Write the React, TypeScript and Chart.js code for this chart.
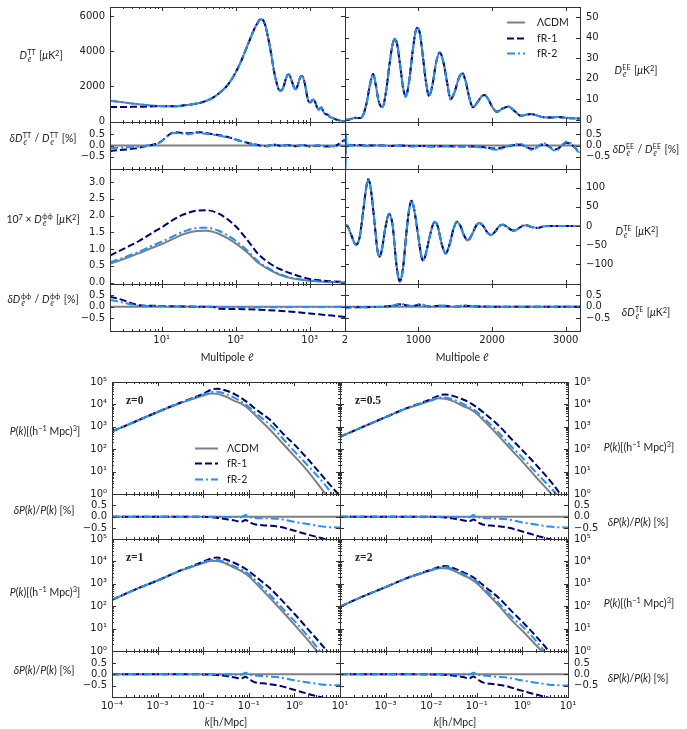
import React, { useEffect, useRef } from 'react';
import { Chart, registerables } from 'chart.js';

Chart.register(...registerables);

const GRAY = '#808080';
const NAVY = '#000080';
const BLUE = '#1e90ff';
const INK = '#222222';
const TICK_FONT = "'DejaVu Sans', sans-serif";
const LABEL_FONT = "Lato, 'DejaVu Sans', sans-serif";
const SERIF_FONT = "'Liberation Serif', 'DejaVu Serif', serif";

// ---------------- CMB temperature spectrum (log multipoles) ----------------
const ttEll = [2, 3, 4, 6, 8, 10, 15, 20, 30, 40, 50, 65, 80, 100, 120, 150, 180, 200, 215, 230, 250, 270, 300, 330, 360, 390, 410, 440, 470, 500, 525, 555, 590, 620, 645, 680, 720, 760, 790, 820, 860, 900, 940, 980, 1030, 1080, 1130, 1190, 1260, 1320, 1380, 1440, 1510, 1580, 1680, 1760, 1850, 1950, 2050, 2200, 2400, 2600, 2800, 3000];
const ttLcdm = [1190, 1100, 1030, 950, 905, 885, 875, 930, 1030, 1180, 1380, 1750, 2150, 2800, 3500, 4500, 5300, 5650, 5820, 5800, 5500, 4900, 3900, 2850, 2150, 1780, 1770, 1950, 2350, 2650, 2680, 2480, 2150, 1900, 1840, 2000, 2350, 2580, 2600, 2480, 2150, 1700, 1300, 1120, 1100, 1220, 1260, 1100, 800, 680, 760, 800, 640, 480, 420, 400, 300, 230, 210, 150, 95, 60, 38, 25];
const ttFr1 = [835, 838, 842, 855, 872, 880, ...ttLcdm.slice(6)];

const ttRatioEll = [2, 3, 4.2, 6.4, 9.6, 12.4, 14.5, 18, 22, 27, 33, 40, 50, 76, 115, 174, 265, 320, 400, 500, 650, 800, 1000, 1300, 1700, 2200, 2600, 2800, 3000];
const ttRatioFr1 = [-0.245, -0.19, -0.14, -0.02, 0.16, 0.47, 0.59, 0.57, 0.55, 0.57, 0.59, 0.55, 0.5, 0.39, 0.21, 0.06, -0.03, 0.05, -0.01, 0.02, -0.03, 0.03, -0.04, 0.0, -0.05, -0.02, 0.12, 0.2, 0.25];
const ttRatioFr2 = [-0.12, -0.09, -0.07, 0.0, 0.15, 0.45, 0.56, 0.54, 0.5, 0.55, 0.56, 0.52, 0.48, 0.37, 0.2, 0.05, -0.03, 0.04, 0.0, 0.01, -0.02, 0.02, -0.03, 0.01, -0.04, -0.02, 0.08, 0.15, 0.2];

// ---------------- lensing potential ----------------
const phiEll = [2, 3, 5, 7, 10, 15, 20, 30, 40, 60, 100, 150, 200, 300, 400, 600, 1000, 1500, 2000, 3000];
const phiLcdm = [0.56, 0.7, 0.88, 1.02, 1.15, 1.33, 1.45, 1.54, 1.55, 1.45, 1.17, 0.86, 0.6, 0.36, 0.23, 0.12, 0.055, 0.03, 0.02, 0.01];
const phiFr1 = [0.81, 1.0, 1.25, 1.45, 1.65, 1.9, 2.04, 2.15, 2.16, 2.05, 1.68, 1.22, 0.86, 0.55, 0.4, 0.25, 0.11, 0.06, 0.04, 0.02];
const phiFr2 = [0.61, 0.74, 0.93, 1.08, 1.22, 1.41, 1.53, 1.63, 1.64, 1.54, 1.25, 0.92, 0.64, 0.39, 0.25, 0.13, 0.06, 0.033, 0.022, 0.012];

const phiRatioEll = [2, 3, 4, 5, 7, 10, 20, 30, 50, 60, 100, 200, 500, 1000, 2000, 3000];
const phiRatioFr1 = [0.43, 0.28, 0.14, 0.06, 0.04, 0.03, 0.01, 0.0, -0.01, -0.09, -0.1, -0.13, -0.2, -0.29, -0.38, -0.44];
const phiRatioFr2 = [0.29, 0.18, 0.09, 0.04, 0.03, 0.02, 0.01, 0.0, 0.0, -0.01, -0.02, -0.03, -0.02, -0.01, -0.01, 0.0];

// ---------------- E-mode polarisation (linear multipoles) ----------------
const eeEll = [2, 30, 80, 140, 200, 250, 300, 340, 385, 420, 460, 512, 560, 610, 650, 680, 710, 750, 790, 828, 870, 920, 960, 990, 1020, 1060, 1100, 1143, 1190, 1240, 1290, 1340, 1390, 1437, 1490, 1550, 1596, 1640, 1690, 1739, 1800, 1860, 1898, 1950, 2000, 2064, 2150, 2227, 2300, 2395, 2470, 2530, 2600, 2700, 2800, 2900, 3000, 3100, 3195];
const eeLcdm = [0.05, 0.05, 0.4, 1.1, 0.9, 2.5, 9, 17, 22.4, 17, 9, 6.2, 14, 28, 37, 39.5, 37, 27, 16, 11.4, 18, 33, 43, 45, 42, 31, 19, 11.7, 17, 28, 32.8, 28, 18, 10.1, 13.5, 20.5, 22.8, 19, 11, 6.2, 8.5, 11.5, 12.2, 10, 6.5, 4.0, 5.7, 6.5, 4.5, 2.0, 2.6, 2.9, 2.3, 1.3, 1.2, 1.4, 1.1, 0.8, 0.7];

const eeRatioEll = [2, 5, 9, 14, 20, 30, 60, 150, 300, 450, 600, 750, 900, 1050, 1200, 1350, 1500, 1650, 1750, 1900, 2065, 2220, 2380, 2540, 2700, 2860, 3017, 3195];
const eeRatioFr1 = [0.1, 0.65, -0.35, 0.1, -0.02, 0.02, 0.01, 0.02, 0.0, 0.01, -0.02, 0.0, -0.03, -0.02, -0.04, -0.03, -0.04, -0.04, -0.05, -0.08, -0.14, -0.03, 0.04, -0.15, 0.06, -0.18, 0.12, -0.3];
const eeRatioFr2 = [0.3, 1.2, -1.2, 0.5, -0.1, 0.05, 0.02, 0.0, -0.02, 0.01, -0.03, 0.0, -0.04, -0.02, -0.06, -0.03, -0.06, -0.04, -0.06, -0.1, -0.19, -0.02, 0.08, -0.2, 0.1, -0.24, 0.18, -0.38];

// ---------------- temperature-polarisation cross spectrum ----------------
const teEll = [2, 30, 80, 151, 200, 250, 290, 318, 350, 400, 440, 467, 500, 550, 602, 650, 700, 747, 790, 840, 875, 905, 940, 1000, 1040, 1062, 1090, 1150, 1190, 1221, 1260, 1320, 1370, 1420, 1480, 1523, 1570, 1620, 1672, 1720, 1790, 1830, 1880, 1940, 1988, 2040, 2100, 2145, 2200, 2260, 2304, 2360, 2420, 2460, 2540, 2620, 2700, 2800, 3000, 3195];
const teLcdm = [2, 1, -20, -49, -30, 40, 100, 122, 100, 15, -60, -81, -65, -5, 32, 0, -100, -145, -110, -10, 45, 66, 45, -30, -80, -90, -80, -30, 0, 11, 0, -50, -72, -50, -5, 11, 0, -25, -38, -25, 3, 8, 0, -18, -23.5, -15, 0, 3, -2, -10, -12, -6, 1, 2, -3, -5, -1, 0, 0, 0];

const teRatioEll = [2, 15, 100, 300, 500, 650, 750, 820, 900, 1020, 1150, 1330, 1500, 1620, 1800, 2200, 2600, 3195];
const teRatioFr1 = [-0.1, -0.04, -0.02, -0.02, 0.0, 0.04, 0.1, 0.07, 0.03, 0.08, 0.01, 0.04, 0.0, 0.04, 0.01, 0.0, 0.0, 0.0];
const teRatioFr2 = [-0.15, -0.05, -0.03, -0.02, -0.01, 0.05, 0.13, 0.08, 0.02, 0.11, 0.0, 0.05, -0.01, 0.06, 0.0, 0.0, 0.0, 0.0];

// ---------------- matter power spectra ----------------
const kGrid = [1e-4, 3e-4, 1e-3, 3e-3, 6e-3, 0.01, 0.015, 0.02, 0.03, 0.05, 0.07, 0.1, 0.15, 0.3, 0.6, 1, 2, 5, 10];

const pkZ0Lcdm = [620, 1600, 4600, 11000, 17800, 25000, 31000, 29500, 23000, 14000, 10500, 6300, 2800, 700, 150, 49, 10, 0.9, 0.16];
const pkZ0Fr1 = [620, 1600, 4600, 11500, 19500, 30000, 45000, 50000, 43000, 28000, 18600, 11200, 5600, 1950, 430, 160, 35, 4, 0.8];
const pkZ0Fr2 = [620, 1600, 4600, 11200, 18500, 27000, 36000, 37000, 30000, 19000, 13000, 7700, 3700, 1180, 250, 80, 18, 2.2, 0.3];

const pkZ05Lcdm = [355, 950, 2700, 6800, 10700, 15000, 18600, 18000, 14000, 8500, 6300, 3800, 1700, 400, 85, 28, 5.6, 0.7, 0.1];
const pkZ05Fr1 = [355, 950, 2700, 7000, 11500, 17500, 25000, 28000, 24000, 16500, 12000, 7500, 3900, 1150, 260, 90, 20, 2.3, 0.3];
const pkZ05Fr2 = [355, 950, 2700, 6900, 10900, 15800, 20500, 20500, 16500, 10500, 7500, 4700, 2200, 560, 120, 42, 9, 1.26, 0.2];

const pkZ1Lcdm = [190, 525, 1400, 3700, 6000, 8500, 10500, 10400, 8300, 5000, 3600, 2200, 950, 220, 47, 15, 3.0, 0.3, 0.06];
const pkZ1Fr1 = [190, 525, 1400, 3800, 6400, 9800, 13500, 15000, 12500, 8300, 5900, 3700, 1900, 600, 140, 46, 9.3, 1.1, 0.2];
const pkZ1Fr2 = [190, 525, 1400, 3750, 6100, 8900, 11500, 11700, 9300, 5800, 4300, 2700, 1250, 300, 66, 22, 4.5, 0.45, 0.08];

const pkZ2Lcdm = [96, 260, 710, 1800, 2900, 4000, 4900, 4900, 4000, 2400, 1750, 1050, 470, 110, 22, 8, 1.8, 0.22, 0.03];
const pkZ2Fr1 = [96, 260, 710, 1850, 3000, 4300, 5600, 6200, 5100, 3300, 2400, 1500, 750, 240, 56, 20, 4.5, 0.5, 0.08];
const pkZ2Fr2 = [96, 260, 710, 1820, 2950, 4150, 5300, 5600, 4500, 2800, 2050, 1250, 580, 140, 31, 12.6, 2.8, 0.25, 0.04];

const rkGrid = [1e-4, 1e-3, 0.005, 0.013, 0.02, 0.035, 0.05, 0.068, 0.085, 0.1, 0.115, 0.135, 0.25, 0.5, 0.85, 2, 3.9, 5.3, 10];
const pkRatioZ0Fr1 = [0, 0, 0, -0.01, -0.04, -0.12, -0.17, -0.22, -0.14, -0.22, -0.28, -0.33, -0.38, -0.45, -0.57, -0.78, -0.93, -1.0, -1.12];
const pkRatioZ0Fr2 = [0, 0, 0, 0, 0, -0.01, -0.01, -0.02, 0.08, 0.0, -0.04, -0.05, -0.07, -0.1, -0.2, -0.32, -0.42, -0.45, -0.47];
const pkRatioZ05Fr1 = [0, 0, 0, -0.01, -0.03, -0.1, -0.15, -0.2, -0.12, -0.21, -0.28, -0.34, -0.4, -0.48, -0.6, -0.82, -0.97, -1.05, -1.15];
const pkRatioZ05Fr2 = [0, 0, 0, 0, 0, -0.01, -0.01, -0.02, 0.07, 0.0, -0.03, -0.05, -0.08, -0.12, -0.22, -0.34, -0.43, -0.45, -0.47];
const pkRatioZ1Fr1 = [0, 0, 0, -0.01, -0.03, -0.09, -0.14, -0.19, -0.11, -0.21, -0.28, -0.35, -0.42, -0.52, -0.65, -0.87, -1.02, -1.08, -1.18];
const pkRatioZ1Fr2 = [0, 0, 0, 0, 0, -0.01, -0.01, -0.02, 0.07, 0.0, -0.03, -0.05, -0.09, -0.14, -0.24, -0.36, -0.45, -0.47, -0.49];
const pkRatioZ2Fr1 = [0, 0, 0, -0.01, -0.02, -0.07, -0.12, -0.18, -0.1, -0.2, -0.28, -0.36, -0.44, -0.55, -0.7, -0.9, -1.05, -1.1, -1.2];
const pkRatioZ2Fr2 = [0, 0, 0, 0, 0, 0, -0.01, -0.01, 0.07, 0.0, -0.03, -0.05, -0.1, -0.15, -0.25, -0.37, -0.46, -0.48, -0.5];

// reference (zero) line of the relative-difference panels
const ellLogEnds = [2, 3000];
const ellLinEnds = [2, 3195];
const kEnds = [1e-4, 10];
const flat = [0, 0];

// ---------------- tick labels ----------------
const SUPS: Record<string, string> = { '-': '⁻', '0': '⁰', '1': '¹', '2': '²', '3': '³', '4': '⁴', '5': '⁵', '6': '⁶', '7': '⁷', '8': '⁸', '9': '⁹' };
const fmtPow = (v: number) => '10' + String(Math.round(Math.log10(v))).split('').map((c) => SUPS[c]).join('');
const fmtInt = (v: number) => (v < 0 ? '−' : '') + String(Math.abs(Math.round(v)));
const fmt1 = (v: number) => (v < -1e-9 ? '−' : '') + Math.abs(v).toFixed(1);

function logMinors(d0: number, d1: number): number[] {
  const out: number[] = [];
  for (let d = d0; d <= d1; d++) for (let m = 2; m <= 9; m++) out.push(Number((m * Math.pow(10, d)).toPrecision(6)));
  return out;
}

type Axis = {
  type: 'linear' | 'logarithmic';
  min: number;
  max: number;
  major: number[];
  minor?: number[];
  labels?: number[];
  fmt: (v: number) => string;
};
type Kind = 'lcdm' | 'fr1' | 'fr2';
type Line = { xs: number[]; ys: number[]; kind: Kind };
type Legend = { x: number; y: number; dy: number; len: number; gap: number };
type PanelSpec = {
  key: string;
  box: [number, number, number, number];
  ySide: 'left' | 'right';
  x: Axis;
  y: Axis;
  lines: Line[];
  legend?: Legend;
};

const STYLE: Record<Kind, { label: string; color: string; dash: number[]; width: number; order: number }> = {
  lcdm: { label: 'ΛCDM', color: GRAY, dash: [], width: 2, order: 2 },
  fr1: { label: 'fR-1', color: NAVY, dash: [7, 3], width: 2, order: 1 },
  fr2: { label: 'fR-2', color: BLUE, dash: [8, 3, 2, 3], width: 2, order: 0 },
};

const ellLogAxis = (withLabels: boolean): Axis => ({
  type: 'logarithmic', min: 2, max: 3000, major: [10, 100, 1000],
  minor: logMinors(0, 3).filter((v) => v >= 2 && v <= 3000),
  labels: withLabels ? [10, 100, 1000] : undefined, fmt: fmtPow,
});
const ellLinAxis = (withLabels: boolean): Axis => ({
  type: 'linear', min: 2, max: 3195, major: [1000, 2000, 3000],
  labels: withLabels ? [2, 1000, 2000, 3000] : undefined, fmt: fmtInt,
});
const kAxis = (labels?: number[]): Axis => ({
  type: 'logarithmic', min: 1e-4, max: 10, major: [1e-4, 1e-3, 1e-2, 1e-1, 1, 10],
  minor: logMinors(-4, 0), labels, fmt: fmtPow,
});
const ratioAxis = (min: number, max: number): Axis => ({
  type: 'linear', min, max, major: [-0.5, 0, 0.5], labels: [-0.5, 0, 0.5], fmt: fmt1,
});
const pkAxis = (): Axis => ({
  type: 'logarithmic', min: 1, max: 1e5, major: [1, 10, 100, 1e3, 1e4, 1e5],
  minor: logMinors(0, 4), labels: [1, 10, 100, 1e3, 1e4, 1e5], fmt: fmtPow,
});

const three = (xs: number[], a: number[], b: number[], c: number[]): Line[] => [
  { xs, ys: a, kind: 'lcdm' },
  { xs, ys: b, kind: 'fr1' },
  { xs, ys: c, kind: 'fr2' },
];
const ratio = (ends: number[], xs: number[], b: number[], c: number[]): Line[] => [
  { xs: ends, ys: flat, kind: 'lcdm' },
  { xs, ys: b, kind: 'fr1' },
  { xs, ys: c, kind: 'fr2' },
];

const K_ALL = [1e-4, 1e-3, 1e-2, 1e-1, 1, 10];
const K_RIGHT = [1e-3, 1e-2, 1e-1, 1, 10];

const PANELS: PanelSpec[] = [
  // CMB, left column (logarithmic multipoles)
  {
    key: 'tt', box: [110, 7, 235, 115], ySide: 'left', x: ellLogAxis(false),
    y: { type: 'linear', min: -17, max: 6511, major: [0, 2000, 4000, 6000], labels: [0, 2000, 4000, 6000], fmt: fmtInt },
    lines: three(ttEll, ttLcdm, ttFr1, ttLcdm),
  },
  { key: 'ttR', box: [110, 122, 235, 47], ySide: 'left', x: ellLogAxis(false), y: ratioAxis(-1.05, 1.05), lines: ratio(ellLogEnds, ttRatioEll, ttRatioFr1, ttRatioFr2) },
  {
    key: 'phi', box: [110, 169, 235, 115], ySide: 'left', x: ellLogAxis(false),
    y: { type: 'linear', min: -0.04, max: 3.39, major: [0, 0.5, 1, 1.5, 2, 2.5, 3], labels: [0, 0.5, 1, 1.5, 2, 2.5, 3], fmt: fmt1 },
    lines: three(phiEll, phiLcdm, phiFr1, phiFr2),
  },
  { key: 'phiR', box: [110, 284, 235, 47], ySide: 'left', x: ellLogAxis(true), y: ratioAxis(-1.04, 0.97), lines: ratio(ellLogEnds, phiRatioEll, phiRatioFr1, phiRatioFr2) },
  // CMB, right column (linear multipoles)
  {
    key: 'ee', box: [345, 7, 235, 115], ySide: 'right', x: ellLinAxis(false),
    y: { type: 'linear', min: -1, max: 55, major: [0, 10, 20, 30, 40, 50], labels: [0, 10, 20, 30, 40, 50], fmt: fmtInt },
    lines: three(eeEll, eeLcdm, eeLcdm, eeLcdm),
    legend: { x: 507, y: 22, dy: 15.7, len: 18, gap: 12 },
  },
  { key: 'eeR', box: [345, 122, 235, 47], ySide: 'right', x: ellLinAxis(false), y: ratioAxis(-1.05, 1.05), lines: ratio(ellLinEnds, eeRatioEll, eeRatioFr1, eeRatioFr2) },
  {
    key: 'te', box: [345, 169, 235, 115], ySide: 'right', x: ellLinAxis(false),
    y: { type: 'linear', min: -151.5, max: 148.8, major: [-100, -50, 0, 50, 100], labels: [-100, -50, 0, 50, 100], fmt: fmtInt },
    lines: three(teEll, teLcdm, teLcdm, teLcdm),
  },
  { key: 'teR', box: [345, 284, 235, 47], ySide: 'right', x: ellLinAxis(true), y: ratioAxis(-1.04, 0.97), lines: ratio(ellLinEnds, teRatioEll, teRatioFr1, teRatioFr2) },
  // matter power spectra
  {
    key: 'pk0', box: [112, 382, 228, 112], ySide: 'left', x: kAxis(), y: pkAxis(),
    lines: three(kGrid, pkZ0Lcdm, pkZ0Fr1, pkZ0Fr2),
    legend: { x: 195, y: 448, dy: 15.3, len: 23, gap: 9 },
  },
  { key: 'pk0R', box: [112, 494, 228, 45], ySide: 'left', x: kAxis(), y: ratioAxis(-0.97, 0.99), lines: ratio(kEnds, rkGrid, pkRatioZ0Fr1, pkRatioZ0Fr2) },
  { key: 'pk1', box: [112, 539, 228, 112], ySide: 'left', x: kAxis(), y: pkAxis(), lines: three(kGrid, pkZ1Lcdm, pkZ1Fr1, pkZ1Fr2) },
  { key: 'pk1R', box: [112, 651, 228, 46], ySide: 'left', x: kAxis(K_ALL), y: ratioAxis(-1.01, 1.04), lines: ratio(kEnds, rkGrid, pkRatioZ1Fr1, pkRatioZ1Fr2) },
  { key: 'pk05', box: [340, 382, 228, 112], ySide: 'right', x: kAxis(), y: pkAxis(), lines: three(kGrid, pkZ05Lcdm, pkZ05Fr1, pkZ05Fr2) },
  { key: 'pk05R', box: [340, 494, 228, 45], ySide: 'right', x: kAxis(), y: ratioAxis(-0.97, 0.99), lines: ratio(kEnds, rkGrid, pkRatioZ05Fr1, pkRatioZ05Fr2) },
  { key: 'pk2', box: [340, 539, 228, 112], ySide: 'right', x: kAxis(), y: pkAxis(), lines: three(kGrid, pkZ2Lcdm, pkZ2Fr1, pkZ2Fr2) },
  { key: 'pk2R', box: [340, 651, 228, 46], ySide: 'right', x: kAxis(K_RIGHT), y: ratioAxis(-1.01, 1.04), lines: ratio(kEnds, rkGrid, pkRatioZ2Fr1, pkRatioZ2Fr2) },
];

// canvas margins around each plotting box (room for tick labels)
const PADL = 50;
const PADR = 50;
const PADT = 14;
const PADB = 26;

function scaleOptions(a: Axis, dir: 'x' | 'y', position: string) {
  const show = !!a.labels && a.labels.length > 0;
  return {
    type: a.type,
    position,
    min: a.min,
    max: a.max,
    bounds: 'data',
    display: true,
    grid: { display: false, drawTicks: false },
    border: { display: false },
    ticks: {
      display: show,
      autoSkip: false,
      maxRotation: 0,
      minRotation: 0,
      padding: dir === 'x' ? 3 : position === 'left' ? 5 : 6,
      color: INK,
      font: { family: TICK_FONT, size: 10 },
      callback: (v: any) => a.fmt(Number(v)),
    },
    afterBuildTicks: (s: any) => {
      s.ticks = (a.labels || []).map((v) => ({ value: v }));
    },
    afterFit: (s: any) => {
      if (dir === 'x') s.height = PADB;
      else s.width = position === 'left' ? PADL : PADR;
    },
  };
}

// frame, inward tick marks on all four sides, and the line legend
function framePlugin(p: PanelSpec) {
  return {
    id: 'frame_' + p.key,
    afterDatasetsDraw(chart: any) {
      const { ctx, chartArea: a } = chart;
      const sx = chart.scales.x;
      const sy = chart.scales.y;
      ctx.save();
      ctx.setLineDash([]);
      ctx.strokeStyle = '#333333';
      ctx.lineWidth = 1;
      ctx.beginPath();
      const xt = (vals: number[] | undefined, len: number) =>
        (vals || []).forEach((v) => {
          if (v <= p.x.min || v >= p.x.max) return;
          const px = Math.round(sx.getPixelForValue(v)) + 0.5;
          ctx.moveTo(px, a.bottom);
          ctx.lineTo(px, a.bottom - len);
          ctx.moveTo(px, a.top);
          ctx.lineTo(px, a.top + len);
        });
      const yt = (vals: number[] | undefined, len: number) =>
        (vals || []).forEach((v) => {
          if (v <= p.y.min || v >= p.y.max) return;
          const py = Math.round(sy.getPixelForValue(v)) + 0.5;
          ctx.moveTo(a.left, py);
          ctx.lineTo(a.left + len, py);
          ctx.moveTo(a.right, py);
          ctx.lineTo(a.right - len, py);
        });
      xt(p.x.major, 4);
      xt(p.x.minor, 2);
      yt(p.y.major, 4);
      yt(p.y.minor, 2);
      ctx.stroke();
      ctx.strokeRect(a.left + 0.5, a.top + 0.5, a.right - a.left, a.bottom - a.top);

      if (p.legend) {
        const lg = p.legend;
        const ox = p.box[0] - PADL;
        const oy = p.box[1] - PADT;
        (['lcdm', 'fr1', 'fr2'] as Kind[]).forEach((k, i) => {
          const st = STYLE[k];
          const y = Math.round(lg.y + i * lg.dy - oy) + 0.5;
          const x0 = lg.x - ox;
          ctx.beginPath();
          ctx.setLineDash(st.dash);
          ctx.strokeStyle = st.color;
          ctx.lineWidth = st.width;
          ctx.moveTo(x0, y);
          ctx.lineTo(x0 + lg.len, y);
          ctx.stroke();
          ctx.setLineDash([]);
          ctx.fillStyle = INK;
          ctx.font = `10.5px ${LABEL_FONT}`;
          ctx.textBaseline = 'middle';
          ctx.textAlign = 'left';
          ctx.fillText(st.label, x0 + lg.len + lg.gap, y);
        });
      }
      ctx.restore();
    },
  };
}

function makeConfig(p: PanelSpec): any {
  const datasets = p.lines.map((ln) => {
    const st = STYLE[ln.kind];
    return {
      label: st.label,
      data: ln.xs.map((x, i) => ({ x, y: ln.ys[i] })),
      borderColor: st.color,
      borderWidth: st.width,
      borderDash: st.dash,
      pointRadius: 0,
      pointHoverRadius: 0,
      fill: false,
      cubicInterpolationMode: 'monotone',
      clip: 0,
      order: st.order,
    };
  });
  return {
    type: 'line',
    data: { datasets },
    options: {
      animation: false,
      responsive: false,
      devicePixelRatio: 1,
      events: [],
      layout: {
        padding: {
          left: p.ySide === 'left' ? 0 : PADL,
          right: p.ySide === 'right' ? 0 : PADR,
          top: PADT,
          bottom: 0,
        },
      },
      plugins: { legend: { display: false }, tooltip: { enabled: false }, title: { display: false } },
      scales: {
        x: scaleOptions(p.x, 'x', 'bottom'),
        y: scaleOptions(p.y, 'y', p.ySide),
      },
    },
    plugins: [framePlugin(p)],
  };
}

function Panel({ spec }: { spec: PanelSpec }) {
  const ref = useRef<HTMLCanvasElement | null>(null);
  useEffect(() => {
    if (!ref.current) return;
    const chart = new Chart(ref.current, makeConfig(spec));
    return () => chart.destroy();
  }, [spec]);
  const [l, t, w, h] = spec.box;
  const cw = w + PADL + PADR;
  const ch = h + PADT + PADB;
  return (
    <canvas
      ref={ref}
      width={cw}
      height={ch}
      style={{ position: 'absolute', left: l - PADL, top: t - PADT, width: cw, height: ch }}
    />
  );
}

// ---------------- axis titles ----------------
const Sup = ({ children }: { children: React.ReactNode }) => (
  <span style={{ fontSize: '0.7em', verticalAlign: '0.5em', lineHeight: 0 }}>{children}</span>
);
const SS = ({ sup, sub }: { sup: string; sub: string }) => (
  <span
    style={{
      display: 'inline-flex',
      flexDirection: 'column',
      fontSize: '0.68em',
      lineHeight: 1,
      verticalAlign: '0.62em',
      marginLeft: '0.06em',
      marginRight: '0.1em',
    }}
  >
    <span>{sup}</span>
    <span>{sub}</span>
  </span>
);
const DL = ({ s, d }: { s: string; d?: boolean }) => (
  <>
    <i>{d ? 'δD' : 'D'}</i>
    <SS sup={s} sub="ℓ" />
  </>
);
const UK2 = () => (
  <>
    [<i>μ</i>K<Sup>2</Sup>]
  </>
);
const PK = () => (
  <>
    <i>P</i>(<i>k</i>)[(h<Sup>−1</Sup> Mpc)<Sup>3</Sup>]
  </>
);
const DPK = () => (
  <>
    <i>δP</i>(<i>k</i>)/<i>P</i>(<i>k</i>) [%]
  </>
);

function T({ x, y, children, left, serif }: { x: number; y: number; children: React.ReactNode; left?: boolean; serif?: boolean }) {
  return (
    <div
      style={{
        position: 'absolute',
        left: x,
        top: y,
        transform: left ? 'translate(0,-50%)' : 'translate(-50%,-50%)',
        whiteSpace: 'nowrap',
        fontFamily: serif ? SERIF_FONT : LABEL_FONT,
        fontWeight: serif ? 700 : 400,
        fontSize: serif ? 11.5 : 10.5,
        color: INK,
        lineHeight: 1.2,
      }}
    >
      {children}
    </div>
  );
}

export default function App() {
  return (
    <div style={{ position: 'absolute', left: 0, top: 0, width: 687, height: 729, background: '#ffffff', overflow: 'hidden' }}>
      {PANELS.map((p) => (
        <Panel key={p.key} spec={p} />
      ))}

      <T x={41} y={56}>
        <DL s="TT" /> <UK2 />
      </T>
      <T x={43} y={139}>
        <DL s="TT" d /> / <DL s="TT" /> [%]
      </T>
      <T x={43} y={220}>
        10<Sup>7</Sup> × <DL s="ϕϕ" /> <UK2 />
      </T>
      <T x={43} y={300}>
        <DL s="ϕϕ" d /> / <DL s="ϕϕ" /> [%]
      </T>
      <T x={636} y={71}>
        <DL s="EE" /> <UK2 />
      </T>
      <T x={646} y={150}>
        <DL s="EE" d /> / <DL s="EE" /> [%]
      </T>
      <T x={637} y={232}>
        <DL s="TE" /> <UK2 />
      </T>
      <T x={646} y={313}>
        <DL s="TE" d /> <UK2 />
      </T>
      <T x={227} y={357}>
        Multipole ℓ
      </T>
      <T x={462} y={357}>
        Multipole ℓ
      </T>

      <T x={45} y={431}>
        <PK />
      </T>
      <T x={44} y={510}>
        <DPK />
      </T>
      <T x={45} y={592}>
        <PK />
      </T>
      <T x={44} y={670}>
        <DPK />
      </T>
      <T x={639} y={447}>
        <PK />
      </T>
      <T x={638} y={522}>
        <DPK />
      </T>
      <T x={639} y={603}>
        <PK />
      </T>
      <T x={638} y={678}>
        <DPK />
      </T>
      <T x={226} y={722}>
        <i>k</i>[h/Mpc]
      </T>
      <T x={455} y={722}>
        <i>k</i>[h/Mpc]
      </T>

      <T x={126} y={401} left serif>
        z=0
      </T>
      <T x={355} y={401} left serif>
        z=0.5
      </T>
      <T x={126} y={558} left serif>
        z=1
      </T>
      <T x={355} y={558} left serif>
        z=2
      </T>
    </div>
  );
}
